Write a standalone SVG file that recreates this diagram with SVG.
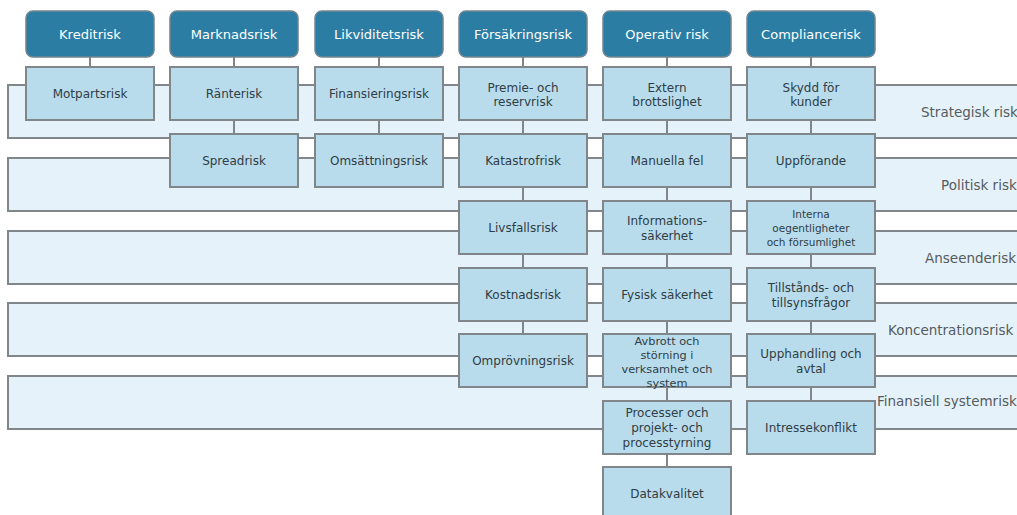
<svg xmlns="http://www.w3.org/2000/svg" width="1017" height="515" viewBox="0 0 1017 515">
<style>
text{font-family:"DejaVu Sans","Liberation Sans",sans-serif;text-anchor:middle}
.hdr rect{fill:#2b7da4;stroke:#6f858f;stroke-width:1.5}
.hdr text{fill:#ffffff;font-size:13px}
.box rect{fill:#b9dced;stroke:#80868a;stroke-width:2}
.box text{fill:#2f3d44;font-size:12px}
.box text.s{font-size:11.3px}
.box text.xs{font-size:10.5px}
.band rect{fill:#e6f2f9;stroke:#80868a;stroke-width:2}
.band text{fill:#555b5e;font-size:13.5px;text-anchor:start}
.conn line{stroke:#80868a;stroke-width:2}
</style>
<rect width="1017" height="515" fill="#ffffff"/>
<g id="bands">
<g id="band-strategisk" class="band"><rect x="8" y="85" width="1020" height="53"/><text x="921" y="117">Strategisk risk</text></g>
<g id="band-politisk" class="band"><rect x="8" y="158" width="1020" height="53"/><text x="941" y="190">Politisk risk</text></g>
<g id="band-anseende" class="band"><rect x="8" y="231" width="1020" height="53"/><text x="925" y="263">Anseenderisk</text></g>
<g id="band-koncentration" class="band"><rect x="8" y="303" width="1020" height="53"/><text x="888" y="335">Koncentrationsrisk</text></g>
<g id="band-finansiell" class="band"><rect x="8" y="376" width="1020" height="53"/><text x="877" y="406">Finansiell systemrisk</text></g>
</g>
<g id="connectors" class="conn">
<line x1="90" y1="57" x2="90" y2="67"/>
<line x1="234" y1="57" x2="234" y2="67"/>
<line x1="234" y1="120" x2="234" y2="134"/>
<line x1="379" y1="57" x2="379" y2="67"/>
<line x1="379" y1="120" x2="379" y2="134"/>
<line x1="523" y1="57" x2="523" y2="67"/>
<line x1="523" y1="120" x2="523" y2="134"/>
<line x1="523" y1="187" x2="523" y2="201"/>
<line x1="523" y1="254" x2="523" y2="268"/>
<line x1="523" y1="321" x2="523" y2="334"/>
<line x1="667" y1="57" x2="667" y2="67"/>
<line x1="667" y1="120" x2="667" y2="134"/>
<line x1="667" y1="187" x2="667" y2="201"/>
<line x1="667" y1="254" x2="667" y2="268"/>
<line x1="667" y1="321" x2="667" y2="334"/>
<line x1="667" y1="387" x2="667" y2="401"/>
<line x1="667" y1="454" x2="667" y2="467"/>
<line x1="811" y1="57" x2="811" y2="67"/>
<line x1="811" y1="120" x2="811" y2="134"/>
<line x1="811" y1="187" x2="811" y2="201"/>
<line x1="811" y1="254" x2="811" y2="268"/>
<line x1="811" y1="321" x2="811" y2="334"/>
<line x1="811" y1="387" x2="811" y2="401"/>
</g>
<g id="h-kredit" class="hdr"><rect x="26" y="11" width="128" height="46" rx="7"/><text x="90" y="39">Kreditrisk</text></g>
<g id="h-marknad" class="hdr"><rect x="170" y="11" width="128" height="46" rx="7"/><text x="234" y="39">Marknadsrisk</text></g>
<g id="h-likviditet" class="hdr"><rect x="315" y="11" width="128" height="46" rx="7"/><text x="379" y="39">Likviditetsrisk</text></g>
<g id="h-forsakring" class="hdr"><rect x="459" y="11" width="128" height="46" rx="7"/><text x="523" y="39">Försäkringsrisk</text></g>
<g id="h-operativ" class="hdr"><rect x="603" y="11" width="128" height="46" rx="7"/><text x="667" y="39">Operativ risk</text></g>
<g id="h-compliance" class="hdr"><rect x="747" y="11" width="128" height="46" rx="7"/><text x="811" y="39">Compliancerisk</text></g>

<g id="motpart" class="box"><rect x="26" y="67" width="128" height="53"/><text x="90" y="98">Motpartsrisk</text></g>
<g id="ranterisk" class="box"><rect x="170" y="67" width="128" height="53"/><text x="234" y="98">Ränterisk</text></g>
<g id="spreadrisk" class="box"><rect x="170" y="134" width="128" height="53"/><text x="234" y="165">Spreadrisk</text></g>
<g id="finansiering" class="box"><rect x="315" y="67" width="128" height="53"/><text x="379" y="98">Finansieringsrisk</text></g>
<g id="omsattning" class="box"><rect x="315" y="134" width="128" height="53"/><text x="379" y="165">Omsättningsrisk</text></g>
<g id="premie" class="box"><rect x="459" y="67" width="128" height="53"/><text x="523" y="92">Premie- och</text><text x="523" y="106">reservrisk</text></g>
<g id="katastrof" class="box"><rect x="459" y="134" width="128" height="53"/><text x="523" y="165">Katastrofrisk</text></g>
<g id="livsfall" class="box"><rect x="459" y="201" width="128" height="53"/><text x="523" y="232">Livsfallsrisk</text></g>
<g id="kostnad" class="box"><rect x="459" y="268" width="128" height="53"/><text x="523" y="299">Kostnadsrisk</text></g>
<g id="omprovning" class="box"><rect x="459" y="334" width="128" height="53"/><text x="523" y="365">Omprövningsrisk</text></g>
<g id="extern" class="box"><rect x="603" y="67" width="128" height="53"/><text x="667" y="92">Extern</text><text x="667" y="106">brottslighet</text></g>
<g id="manuella" class="box"><rect x="603" y="134" width="128" height="53"/><text x="667" y="165">Manuella fel</text></g>
<g id="informations" class="box"><rect x="603" y="201" width="128" height="53"/><text x="667" y="225">Informations-</text><text x="667" y="239.5">säkerhet</text></g>
<g id="fysisk" class="box"><rect x="603" y="268" width="128" height="53"/><text x="667" y="299">Fysisk säkerhet</text></g>
<g id="avbrott" class="box"><rect x="603" y="334" width="128" height="53"/><text class="s" x="667" y="345">Avbrott och</text><text class="s" x="667" y="359">störning i</text><text class="s" x="667" y="373">verksamhet och</text><text class="s" x="667" y="386.5">system</text></g>
<g id="processer" class="box"><rect x="603" y="401" width="128" height="53"/><text x="667" y="417">Processer och</text><text x="667" y="431.5">projekt- och</text><text x="667" y="446.5">processtyrning</text></g>
<g id="datakvalitet" class="box"><rect x="603" y="467" width="128" height="53"/><text x="667" y="498">Datakvalitet</text></g>
<g id="skydd" class="box"><rect x="747" y="67" width="128" height="53"/><text x="811" y="92">Skydd för</text><text x="811" y="106">kunder</text></g>
<g id="uppforande" class="box"><rect x="747" y="134" width="128" height="53"/><text x="811" y="165">Uppförande</text></g>
<g id="interna" class="box"><rect x="747" y="201" width="128" height="53"/><text class="xs" x="811" y="218">Interna</text><text class="xs" x="811" y="232">oegentligheter</text><text class="xs" x="811" y="246">och försumlighet</text></g>
<g id="tillstand" class="box"><rect x="747" y="268" width="128" height="53"/><text x="811" y="291.5">Tillstånds- och</text><text x="811" y="306.5">tillsynsfrågor</text></g>
<g id="upphandling" class="box"><rect x="747" y="334" width="128" height="53"/><text x="811" y="358">Upphandling och</text><text x="811" y="373">avtal</text></g>
<g id="intressekonflikt" class="box"><rect x="747" y="401" width="128" height="53"/><text x="811" y="432">Intressekonflikt</text></g>
</svg>
